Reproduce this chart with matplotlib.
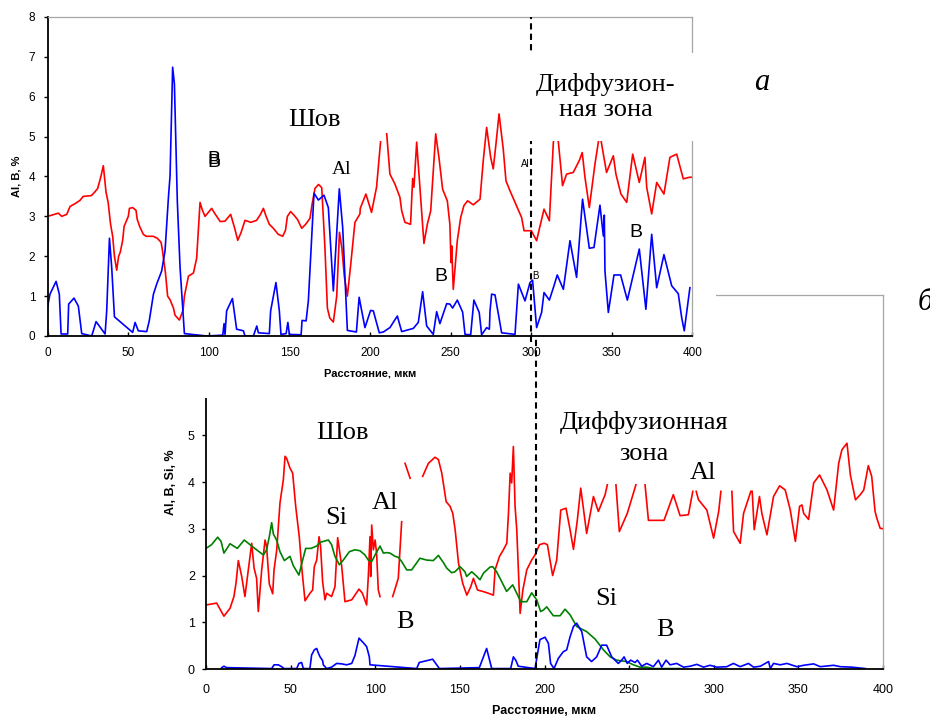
"""
Распределение Al, B (а) и Al, B, Si (б) по расстоянию от шва
"""
import matplotlib
matplotlib.use("Agg")
import numpy as np
import matplotlib.pyplot as plt
from matplotlib.patches import Rectangle
from matplotlib.lines import Line2D

nan = np.nan

# ---------- (а) верхний график ----------
a_al_x = [0, 4, 6.6, 8.7, 11.8, 13.9, 17, 20, 22, 27, 29, 31, 33, 34.5, 36.2, 37.5, 39, 40.3, 41.4, 42.8,
          44, 45, 46.5, 47.4, 50, 50.7, 52.7, 54.8, 55.5, 57, 59.3, 61, 65.5, 68, 70.3, 71, 73, 74.4, 76, 78,
          79, 81.7, 84, 84.8, 87.3, 90.4, 92.4, 93.5, 94.5, 96, 97.6, 101.7, 104, 107, 110, 113.5, 116, 117.9,
          120, 122.4, 126, 129.6, 132, 133.8, 135.5, 137.5, 140, 143, 145.8, 147.5, 148.7, 150.7, 153, 155,
          157.6, 160, 162.7, 164, 165.8, 168, 170, 172, 173.5, 175, 177.2, 179.3, 181, 182.5, 184, 185.9, 188,
          190.6, 193.7, 193.9, 197.4, 200.9, 204, 206.5, 208, 210.3, 212.3, 215.4, 218.5, 219.6, 221.6, 225.1,
          226.4, 227.2, 228.9, 230.9, 233.4, 235.5, 237.6, 240.7, 242.7, 245, 247.9, 249.5, 250.2, 250.6, 251.6,
          254.1, 256.2, 258.2, 260.5, 264, 268.2, 270.2, 272.3, 274.8, 276.4, 278.1, 280, 282.6, 284.3, 286.8,
          289.9, 293, 294, 295.5, 300, 303.3, 307.9, 311.2, 313.7, 315, 316.8, 319.4, 321.9, 326, 329.8, 331.6,
          333.3, 336, 339.5, 341.6, 342.6, 343.6, 346.7, 350.9, 352.5, 355.6, 359.2, 362.9, 367, 370.5, 371.6,
          374.7, 377.8, 382.3, 386, 390.2, 394.3, 398, 400]
a_al = [3.0, 3.05, 3.08, 3.0, 3.05, 3.25, 3.32, 3.4, 3.5, 3.52, 3.6, 3.7, 4.0, 4.27, 3.6, 3.35, 2.8, 2.5, 2.0, 1.65,
        2.0, 2.1, 2.4, 2.75, 3.0, 3.2, 3.22, 3.15, 2.93, 2.75, 2.55, 2.5, 2.5, 2.45, 2.35, 2.2, 1.6, 1.0, 0.9, 0.7,
        0.52, 0.4, 0.65, 1.0, 1.5, 1.58, 1.95, 2.7, 3.35, 3.15, 3.0, 3.2, 3.05, 2.87, 2.88, 3.05, 2.7, 2.4,
        2.6, 2.9, 2.85, 2.9, 3.05, 3.2, 3.0, 2.8, 2.7, 2.55, 2.5, 2.65, 3.0, 3.12, 3.02, 2.92,
        2.7, 2.8, 2.95, 3.3, 3.7, 3.8, 3.72, 2.2, 0.7, 0.45, 0.35, 1.0, 2.6, 2.2, 1.5, 1.0, 1.8,
        2.85, 3.06, 3.2, 3.56, 3.1, 3.73, 4.87, nan, 5.07, 4.06, 3.81, 3.48, 3.14, 2.85, 2.8,
        3.95, 3.73, 4.86, 3.73, 2.32, 2.8, 3.14, 5.07, 4.48, 3.68, 3.39, 2.8, 1.84, 2.26, 1.17,
        2.39, 2.97, 3.27, 3.39, 3.29, 3.43, 4.4, 5.23, 4.48, 4.19, 4.82, 5.57, 4.69, 3.89, 3.64,
        3.35, 3.06, 2.97, 2.64, 2.64, 2.39, 3.18, 2.89, 4.86, 5.3, 4.86, 3.77, 4.06, 4.1, 4.4, 4.6,
        3.98, 3.22, 4.31, 4.86, 5.1, 4.82, 4.1, 4.52, 4.06, 3.56, 3.35, 4.56, 3.85, 4.48, 3.73,
        3.06, 3.85, 3.56, 4.48, 4.56, 3.94, 3.98, 3.98]

a_b_x = [0, 1.4, 5.2, 7.2, 8.3, 12.4, 13, 16.3, 19, 21.1, 27.3, 30, 35.6, 36.6, 38.3, 39.7, 41.4, 52.7, 54.2,
         56.2, 61.4, 63, 65.6, 67.6, 70.7, 72.8, 74.9, 75.9, 77.5, 78.6, 80.4, 82.1, 84.8, 98.6, 108.6, 109.4,
         110, 111, 114.6, 117.2, 121.4, 122.4, 127.6, 129.7, 130.7, 137.5, 138.3, 141.6, 143.7, 144.7, 147.9,
         149, 149.9, 157.2, 157.8, 160.3, 161.7, 163.2, 165.2, 167.9, 171.4, 174.1, 177.2, 180.9, 183, 185.9,
         191.5, 193.2, 196.8, 200.3, 202, 205.7, 208.2, 212.3, 216.9, 219.6, 226.8, 229.9, 232.6, 235.1,
         239.2, 241.3, 243.3, 247.5, 249.5, 251.2, 254.1, 257.4, 258.9, 262.4, 264.4, 267.7, 269.2, 272.3,
         274.0, 274.4, 275.4, 277.5, 281.6, 289.9, 292, 296.1, 299.2, 300.8, 303.3, 306.4, 307.9, 311.2,
         313.7, 316.1, 319.9, 324, 328.1, 331.8, 336, 338.9, 342.6, 344.7, 345.3, 345.7, 347.8, 351.3,
         355.4, 359.6, 367, 371.1, 374.7, 377.8, 382.3, 387.1, 391.2, 393.3, 394.9, 398.4]
a_b = [0.75, 1.05, 1.37, 1.05, 0.05, 0.05, 0.8, 0.95, 0.75, 0.06, 0.0, 0.36, 0.05, 0.63, 2.45, 1.72, 0.48, 0.09, 0.34,
       0.13, 0.11, 0.38, 1.05, 1.3, 1.63, 2.14, 3.48, 4.02, 6.74, 6.32, 3.39, 1.72, 0.06, 0.0, 0.02, 0.31,
       0.04, 0.63, 0.94, 0.17, 0.13, 0.0, 0.0, 0.25, 0.08, 0.06, 0.63, 1.34, 0.63, 0.04, 0.06,
       0.34, 0.04, 0.03, 0.39, 0.38, 0.88, 2.05, 3.58, 3.41, 3.53, 3.22, 1.13, 3.69, 2.72, 0.14,
       0.1, 0.97, 0.21, 0.64, 0.63, 0.08, 0.1, 0.21, 0.5, 0.11, 0.19, 0.34, 1.11, 0.25,
       0.04, 0.61, 0.31, 0.81, 0.8, 0.7, 0.9, 0.6, 0.04, 0.03, 0.9, 0.59, 0.03, 0.21,
       0.17, 0.63, 1.05, 1.03, 0.08, 0.04, 1.3, 0.88, 1.34, 1.4, 0.21, 0.59, 1.09, 0.9,
       1.21, 1.53, 1.17, 2.39, 1.47, 3.43, 2.2, 2.22, 3.28, 2.51, 3.03, 1.63, 0.59, 1.53,
       1.53, 0.9, 2.18, 0.67, 2.55, 1.21, 2.04, 1.26, 1.06, 0.46, 0.13, 1.21]
a_boundary = 300

# ---------- (б) нижний график ----------
b_al_x = [0, 6.3, 10.6, 14.2, 16.5, 17.7, 19.1, 21.1, 23.0, 25.0, 27.0, 28.4, 29.9, 30.9, 32.9, 34.9, 35.8,
          37.4, 39.4, 40.2, 41.8, 43.7, 45.7, 46.7, 47.6, 49.6, 51.2, 53.0, 55.1, 56.5, 58.5, 61.4, 63.0,
          64.0, 65.4, 66.8, 67.7, 68.9, 70.3, 71.3, 74.2, 76.2, 77.8, 80.2, 82.1, 86.1, 88.0, 90.4, 92.4,
          94.9, 95.9, 96.9, 97.3, 97.9, 98.9, 99.9, 100.8, 101.8, 102.8, 106, 110.3, 113.6, 115.6, 116.6,
          117.6, 120.6, 124, 128.0, 131.4, 135.3, 137.3, 139.3, 141.9, 144.2, 145.8, 147.2, 149.2, 151.7,
          154.1, 156.4, 158.0, 160.4, 163.5, 166.9, 169.8, 170.8, 173.4, 175.7, 177.7, 178.7, 179.7, 180.6,
          181.6, 182.6, 183.6, 185.6, 187.2, 189.5, 192.4, 194.4, 197.0, 199.8, 201.7, 204.8, 207.2, 209.6,
          212.7, 215.1, 217.1, 219.4, 221.4, 224.9, 228.9, 231.8, 235.8, 237.1, 240, 242.2, 244.2, 248.9,
          254.0, 256, 259.4, 261.4, 270.6, 276.1, 280.1, 285.0, 287.6, 288.6, 289.6, 291.0, 295.9, 299.9,
          302.9, 304.2, 307, 310.7, 311.7, 315.6, 317.6, 321.9, 322.3, 322.7, 323.9, 327.0, 328.4, 331.4,
          335.3, 338.9, 342.2, 345.2, 348.2, 350.7, 352.1, 353.1, 356.0, 359.0, 362.5, 366.9, 370.8, 373.8,
          375.7, 378.7, 380.7, 383.7, 386.6, 388.6, 391.3, 393.3, 395.3, 396.3, 398.3, 400.0]
b_al = [1.37, 1.41, 1.13, 1.30, 1.55, 1.83, 2.32, 1.98, 1.55, 2.12, 2.69, 2.16, 1.94, 1.23, 2.12, 2.76, 2.62,
        1.82, 1.61, 2.12, 2.55, 3.55, 4.05, 4.55, 4.51, 4.30, 4.19, 3.48, 2.83, 2.19, 1.46, 1.62, 1.69,
        2.19, 2.33, 2.83, 2.62, 1.87, 1.48, 1.62, 1.55, 1.76, 2.81, 2.19, 1.44, 1.48, 1.58, 1.71, 1.62,
        1.37, 1.98, 2.83, 1.98, 3.08, 2.55, 2.76, 2.48, 1.69, 1.55, nan, 1.55, 1.94, 3.15, nan,
        4.40, 4.08, nan, 4.12, 4.40, 4.53, 4.48, 4.19, 3.58, 3.48, 3.33, 2.98, 2.26, 1.83,
        1.58, 1.76, 1.94, 1.69, 1.66, 1.62, 1.58, 2.12, 2.41, 2.55, 2.69, 3.33, 4.19, 3.98,
        4.76, 3.48, 2.98, 1.19, 1.69, 2.12, 2.33, 2.44, 2.66, 2.69, 2.66, 2.0, 2.33, 3.40,
        3.44, 2.98, 2.56, 3.19, 3.87, 2.90, 3.69, 3.37, 3.73, 3.94, nan, 3.94, 2.94, 3.33,
        3.94, nan, 3.94, 3.18, 3.18, 3.73, 3.28, 3.30, 3.80, nan, 3.80, 3.62, 3.40, 2.80,
        3.37, 3.80, nan, 3.80, 2.94, 2.69, 3.33, 3.80, nan, 3.80, 2.98, 3.69, 3.33, 2.87,
        3.69, 3.92, 3.83, 3.40, 2.73, 3.48, 3.51, 3.33, 3.20, 3.98, 4.15, 3.83, 3.40, 4.40,
        4.69, 4.83, 4.15, 3.62, 3.73, 3.83, 4.35, 4.12, 3.37, 3.23, 3.01, 3.00]

b_si_x = [0, 3.3, 6.9, 8.9, 10.6, 14.2, 18.5, 22.6, 26, 29.9, 33.9, 35.8, 37.4, 38.8, 39.8, 41.8, 43.7, 46.3,
          49.6, 51.6, 54.9, 57.1, 58.9, 62, 65.4, 67.4, 72.3, 74.2, 76.2, 78.8, 81.1, 84.7, 88, 91, 93.9,
          95.9, 97.9, 99.9, 102.8, 104.8, 106.7, 108.7, 111.7, 113.6, 115.6, 118.6, 121.5, 126.4, 130.4,
          134.3, 137.3, 140.2, 142.2, 145.1, 147.1, 150.1, 153, 154, 157, 159.5, 161.9, 163.9, 167.8, 169.4,
          171.7, 174.7, 177.6, 181.2, 183.6, 186, 189.5, 192.4, 195.4, 197.7, 199.3, 201.3, 205.2, 209.2,
          212.1, 215.1, 219, 224.9, 229.9, 234.8, 238.8, 242.6, 248.5, 252.5, 256.4, 260.4, 264.3, 280]
b_si = [2.58, 2.66, 2.82, 2.73, 2.48, 2.68, 2.58, 2.76, 2.66, 2.55, 2.44, 2.55, 2.83, 3.13, 2.89, 2.75, 2.51, 2.32,
        2.41, 2.21, 2.01, 2.33, 2.58, 2.58, 2.63, 2.71, 2.76, 2.66, 2.41, 2.23, 2.33, 2.51, 2.55, 2.53, 2.44,
        2.33, 2.3, 2.44, 2.63, 2.48, 2.49, 2.48, 2.41, 2.39, 2.3, 2.12, 2.12, 2.37, 2.33,
        2.32, 2.43, 2.28, 2.16, 2.06, 2.08, 2.19, 2.08, 1.98, 2.08, 2.0, 1.91, 2.05, 2.18, 2.19,
        2.08, 1.87, 1.66, 1.8, 1.62, 1.44, 1.44, 1.63, 1.48, 1.23, 1.26, 1.33, 1.14, 1.14,
        1.28, 1.16, 0.91, 0.8, 0.64, 0.41, 0.26, 0.19, 0.16, 0.09, 0.04, 0.04, 0.01, 0.01]

b_b_x = [9.3, 10.6, 12.2, 38.8, 40.2, 42.7, 44.7, 46.1, 53.6, 54.9, 56.5, 57.5, 61.4, 62.4, 64, 65.4, 66.4, 67.4,
         68.9, 69.3, 71.3, 74.2, 77.2, 80.2, 83.1, 86.1, 88, 90.4, 93, 94.9, 96.5, 96.9, 124.5, 126, 133.9,
         137.9, 161.5, 165.8, 168.8, 180, 181.6, 183, 184.5, 194.4, 197.3, 200.3, 202.3, 203.6, 205.6, 208.2,
         211.1, 213.1, 215.1, 217.1, 219, 222, 224.9, 227.8, 230.8, 233.8, 236.7, 239.7, 243.6, 245.6, 247,
         248.9, 250.9, 253.5, 254.9, 257.4, 260.4, 264.3, 267.3, 269.2, 271.8, 274.2, 278.1, 282.1, 286, 290,
         293.9, 297.8, 301.8, 307.7, 311.6, 315.6, 320.5, 323.5, 327.5, 332.4, 333.4, 335.3, 339.3, 343.2,
         349.1, 353.1, 359, 362.9, 370.8, 374.8, 381.6, 389.5]
b_b = [0.03, 0.06, 0.03, 0.01, 0.09, 0.09, 0.05, 0.01, 0.01, 0.12, 0.14, 0.01, 0.01, 0.3, 0.41, 0.44, 0.34, 0.26,
       0.18, 0.09, 0.01, 0.04, 0.12, 0.11, 0.09, 0.12, 0.29, 0.66, 0.56, 0.48, 0.26, 0.09, 0.01, 0.14, 0.21,
       0.01, 0.03, 0.44, 0.01, 0.01, 0.26, 0.19, 0.06, 0.01, 0.63, 0.68, 0.55, 0.12, 0.01, 0.23,
       0.37, 0.41, 0.69, 0.91, 0.98, 0.8, 0.26, 0.16, 0.26, 0.51, 0.51, 0.26, 0.12, 0.19, 0.26,
       0.12, 0.19, 0.14, 0.19, 0.06, 0.12, 0.05, 0.19, 0.04, 0.19, 0.09, 0.12, 0.04, 0.06, 0.1,
       0.04, 0.08, 0.04, 0.05, 0.12, 0.05, 0.12, 0.04, 0.06, 0.16, 0.01, 0.12, 0.09, 0.12,
       0.05, 0.08, 0.11, 0.05, 0.08, 0.05, 0.04, 0.01]
b_boundary = 195

x_ticks = [0, 50, 100, 150, 200, 250, 300, 350, 400]

SERIF = "Liberation Serif"
SANS = "Liberation Sans"
plt.rcParams['font.family'] = SANS

fig = plt.figure(figsize=(9.3, 7.19), dpi=100)


def style(ax, fs):
    for s in ['top', 'right']:
        ax.spines[s].set_color('#a6a6a6')
        ax.spines[s].set_linewidth(0.9)
    for s in ['left', 'bottom']:
        ax.spines[s].set_color('black')
        ax.spines[s].set_linewidth(1.3)
    ax.tick_params(axis='x', direction='in', length=3, width=1, labelsize=fs)
    ax.tick_params(axis='y', direction='out', length=3, width=1, labelsize=fs)


#нижний график (б)
ax_b = fig.add_axes([0.2215, 0.0695, 0.728, 0.5202], zorder=1)
ax_b.plot(b_al_x, b_al, color='#ff0000', lw=1.2)
ax_b.plot(b_si_x, b_si, color='#008000', lw=1.2)
ax_b.plot(b_b_x, b_b, color='#0000ff', lw=1.2)
ax_b.set_xlim(0, 400)
ax_b.set_ylim(0, 8)
ax_b.set_xticks(x_ticks)
ax_b.set_yticks(range(0, 9))
style(ax_b, 9)
ax_b.tick_params(axis='x', pad=11)
ax_b.tick_params(axis='y', pad=5)
ax_b.set_xlabel('Расстояние, мкм', fontsize=9, fontweight='bold', labelpad=6)
ax_b.set_ylabel('Al, B, Si, %', fontsize=9, fontweight='bold', labelpad=8)

tkw = dict(family=SERIF, fontsize=19, ha='center', va='center')
ax_b.text(80.4, 5.04, 'Шов', **tkw)
ax_b.text(77, 3.24, 'Si', **tkw)
ax_b.text(105.8, 3.56, 'Al', **tkw)
ax_b.text(117.6, 1.0, 'B', **tkw)
ax_b.text(258.8, 5.28, 'Диффузионная', **tkw)
ax_b.text(258.8, 4.6, 'зона', **tkw)
ax_b.text(293.6, 4.2, 'Al', **tkw)
ax_b.text(236.3, 1.5, 'Si', **tkw)
ax_b.text(271.2, 0.84, 'B', **tkw)

#белая подложка верхнего рисунка
fig.add_artist(Rectangle((0, 1 - 398 / 719), 716 / 930, 398 / 719, facecolor='white',
                         edgecolor='none', zorder=1.5))

#верхний график (а)
ax_t = fig.add_axes([0.0513, 0.5327, 0.6933, 0.4437], zorder=2)
ax_t.plot(a_al_x, a_al, color='#ff0000', lw=1.2)
ax_t.plot(a_b_x, a_b, color='#0000ff', lw=1.2)
ax_t.axvline(a_boundary, ymin=-0.02, ymax=1, color='black', lw=1.5, ls=(0, (3, 2)),
             clip_on=False, zorder=3)
ax_t.set_xlim(0, 400)
ax_t.set_ylim(0, 8)
ax_t.set_xticks(x_ticks)
ax_t.set_yticks(range(0, 9))
style(ax_t, 8.5)
ax_t.tick_params(axis='x', pad=8)
ax_t.tick_params(axis='y', pad=6)
ax_t.set_xlabel('Расстояние, мкм', fontsize=8, fontweight='bold', labelpad=7)
ax_t.set_ylabel('Al, B, %', fontsize=8, fontweight='bold', labelpad=5)

ax_t.add_patch(Rectangle((0.743, 0.611), 0.27, 0.276, transform=ax_t.transAxes,
                         facecolor='white', edgecolor='none', clip_on=False, zorder=4))
ax_t.text(346.3, 6.0, 'Диффузион-\nная зона', family=SERIF, fontsize=19, ha='center',
          va='center', linespacing=1.2, zorder=5)
ax_t.text(165.2, 5.41, 'Шов', **tkw)
ax_t.text(182.6, 4.18, 'Al', family=SERIF, fontsize=14, ha='center', va='center')
ax_t.text(103.3, 4.43, 'B', family=SANS, fontsize=14, ha='center', va='center')
ax_t.text(103.3, 4.36, 'B', family=SANS, fontsize=14, ha='center', va='center')
ax_t.text(244, 1.5, 'B', family=SANS, fontsize=14, ha='center', va='center')
ax_t.text(365, 2.6, 'B', family=SANS, fontsize=14, ha='center', va='center')
ax_t.text(296.5, 4.31, 'Al', family=SANS, fontsize=7, ha='center', va='center')
ax_t.text(302.4, 1.5, 'B', family=SANS, fontsize=7, ha='center', va='center')

#граница диффузионной зоны на нижнем графике поверх всего
fig.add_artist(Line2D([b_boundary, b_boundary], [0, 0.89], transform=ax_b.get_xaxis_transform(),
                      color='black', lw=1.5, ls=(0, (3, 2)), zorder=3))

fig.text(0.8194, 0.8846, 'а', family=SERIF, style='italic', fontsize=22, ha='center', va='center')
fig.text(0.995, 0.5786, 'б', family=SERIF, style='italic', fontsize=22, ha='center', va='center')

fig.savefig('out.png', dpi=100)
